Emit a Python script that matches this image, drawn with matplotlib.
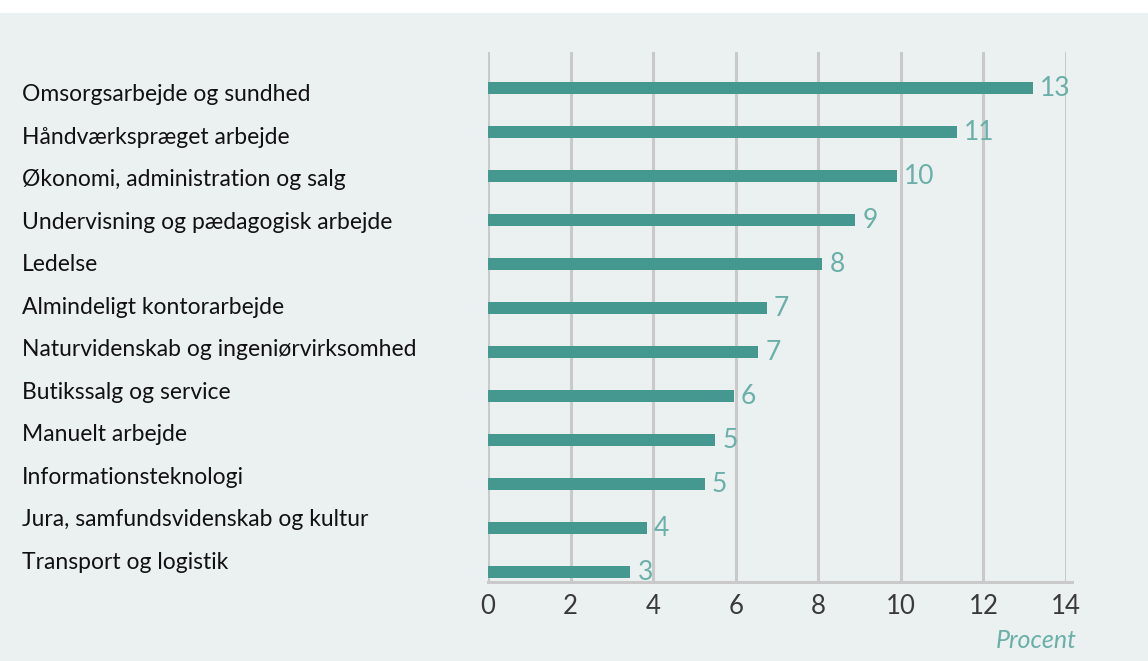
import numpy as np
import matplotlib as mpl
import matplotlib.pyplot as plt

mpl.rcParams['font.family'] = ['Lato', 'DejaVu Sans']

categories = [
    "Omsorgsarbejde og sundhed",
    "Håndværkspræget arbejde",
    "Økonomi, administration og salg",
    "Undervisning og pædagogisk arbejde",
    "Ledelse",
    "Almindeligt kontorarbejde",
    "Naturvidenskab og ingeniørvirksomhed",
    "Butikssalg og service",
    "Manuelt arbejde",
    "Informationsteknologi",
    "Jura, samfundsvidenskab og kultur",
    "Transport og logistik",
]
values = [13.2, 11.35, 9.9, 8.9, 8.1, 6.75, 6.55, 5.95, 5.5, 5.25, 3.85, 3.45]
value_labels = ["13", "11", "10", "9", "8", "7", "7", "6", "5", "5", "4", "3"]
xticks = [0, 2, 4, 6, 8, 10, 12, 14]

bg = '#ebf1f1'
bar_col = '#44988f'
lab_col = '#6aafa8'
grid_col = '#c9c9c9'

fig = plt.figure(figsize=(11.48, 6.61), dpi=100)
fig.patch.set_facecolor(bg)
# white strip at the top
fig.patches.append(mpl.patches.Rectangle((0, 1 - 13 / 661), 1, 13 / 661,
                                         transform=fig.transFigure,
                                         facecolor='white', edgecolor='none'))

ax = fig.add_axes([488 / 1148, 1 - 582 / 661, (1066 - 488) / 1148, (582 - 52) / 661])
ax.set_facecolor(bg)

y = np.arange(len(categories))
ax.barh(y, values, height=0.27, color=bar_col, zorder=3)
for yi, v, s in zip(y, values, value_labels):
    ax.text(v + 0.17, yi + 0.02, s, va='center', ha='left', color=lab_col,
            fontsize=19, zorder=4)

ax.set_ylim(len(categories) - 1 + 0.227, -0.818)
ax.set_xlim(0, 14)
ax.set_yticks([])
ax.set_xticks(xticks)
ax.set_xticklabels([str(t) for t in xticks], fontsize=18.5, color='#3a3a3a')
ax.tick_params(axis='x', length=0, pad=9)
ax.grid(axis='x', color=grid_col, linewidth=2.2, zorder=1)
for side in ['top', 'right', 'left']:
    ax.spines[side].set_visible(False)
ax.spines['bottom'].set_color(grid_col)
ax.spines['bottom'].set_linewidth(2.2)
ax.spines['bottom'].set_bounds(0, 14.15)

ax.text(1.018, -0.11, "Procent", transform=ax.transAxes, ha='right', va='center',
        fontsize=18, style='italic', color=lab_col)

# category labels sit on their own spacing, left of the plot
for i, cat in enumerate(categories):
    yb = 101 + i * (569 - 101) / (len(categories) - 1)
    fig.text(22 / 1148, 1 - yb / 661, cat, ha='left', va='baseline',
             fontsize=16.5, color='#111111')

fig.savefig('out.png', dpi=100, facecolor=bg)
